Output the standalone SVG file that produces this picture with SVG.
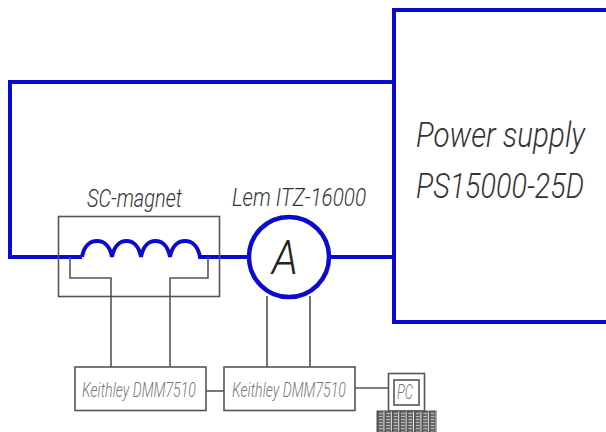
<svg xmlns="http://www.w3.org/2000/svg" width="606" height="432" viewBox="0 0 606 432">
<style>
.b{fill:none;stroke:#0a0ad2;stroke-width:4;stroke-linejoin:miter}
.g{fill:none;stroke:#555;stroke-width:1.6}
.k{fill:none;stroke:#444;stroke-width:1.5}
.t{font-family:Roboto,"Liberation Sans",sans-serif;font-style:italic;font-weight:300;fill:#333}
.s{fill:#777;font-size:20px}
</style>
<defs>
<pattern id="keys" x="377" y="412" width="7.400" height="3" patternUnits="userSpaceOnUse">
<rect width="7.400" height="3" fill="#555"/>
<rect x="1.800" y="0.800" width="3.800" height="1.400" fill="#bbb"/>
<rect x="6.400" y="0" width="1" height="3" fill="#eee"/>
</pattern>
</defs>
<rect width="606" height="432" fill="#fff"/>
<g id="connectors">
<path class="b" d="M394 82H10V257H82"/>
<path class="b" d="M82 257C84 246 90 241 97 241C104 241 110 246 112 257C114 246 120 241 126.500 241C133 241 139 246 141 257C143 246 149 241 155.500 241C162 241 168 246 170 257C172 246 178 241 185 241C192 241 198 246 200 257H249"/>
<path class="b" d="M330 257H394"/>
<path class="g" d="M70 257V278H111V367"/>
<path class="g" d="M208 257V278H170V367"/>
<path class="k" d="M267 296V367"/>
<path class="k" d="M310 296V367"/>
<path class="g" d="M206 391H224"/>
<path class="g" d="M355 388H388"/>
</g>
<g id="magnet">
<rect class="g" x="58.500" y="216.500" width="161" height="80"/>
<text class="t" x="87" y="207" font-size="25" textLength="95" lengthAdjust="spacingAndGlyphs">SC-magnet</text>
</g>
<g id="ammeter">
<circle cx="289" cy="257" r="40" fill="#fff" stroke="#0a0ad2" stroke-width="4.500"/>
<text class="t" x="272" y="274" font-size="48" textLength="26" lengthAdjust="spacingAndGlyphs" style="fill:#222">A</text>
<text class="t" x="232" y="206" font-size="25" textLength="134" lengthAdjust="spacingAndGlyphs">Lem ITZ-16000</text>
</g>
<g id="power-supply">
<path class="b" d="M606 10H394V322H606"/>
<text class="t" transform="translate(416 147) scale(1 1.2)" font-size="29" textLength="169" lengthAdjust="spacingAndGlyphs">Power supply</text>
<text class="t" transform="translate(416 198) scale(1 1.2)" font-size="29" textLength="168" lengthAdjust="spacingAndGlyphs">PS15000-25D</text>
</g>
<g id="keithley-1">
<rect class="g" x="75" y="367" width="131" height="43.500"/>
<text class="t s" x="82" y="397" textLength="114" lengthAdjust="spacingAndGlyphs">Keithley DMM7510</text>
</g>
<g id="keithley-2">
<rect class="g" x="224" y="367" width="131" height="43.500"/>
<text class="t s" x="232" y="397" textLength="114" lengthAdjust="spacingAndGlyphs">Keithley DMM7510</text>
</g>
<g id="pc">
<rect class="g" x="388.500" y="373.500" width="36" height="37.500"/>
<rect class="g" x="394" y="380" width="25" height="25" stroke-width="2"/>
<text class="t s" x="397" y="399" textLength="16" lengthAdjust="spacingAndGlyphs">PC</text>
<rect x="377" y="411" width="59" height="21" fill="url(#keys)" stroke="#555" stroke-width="1"/>
</g>
</svg>
